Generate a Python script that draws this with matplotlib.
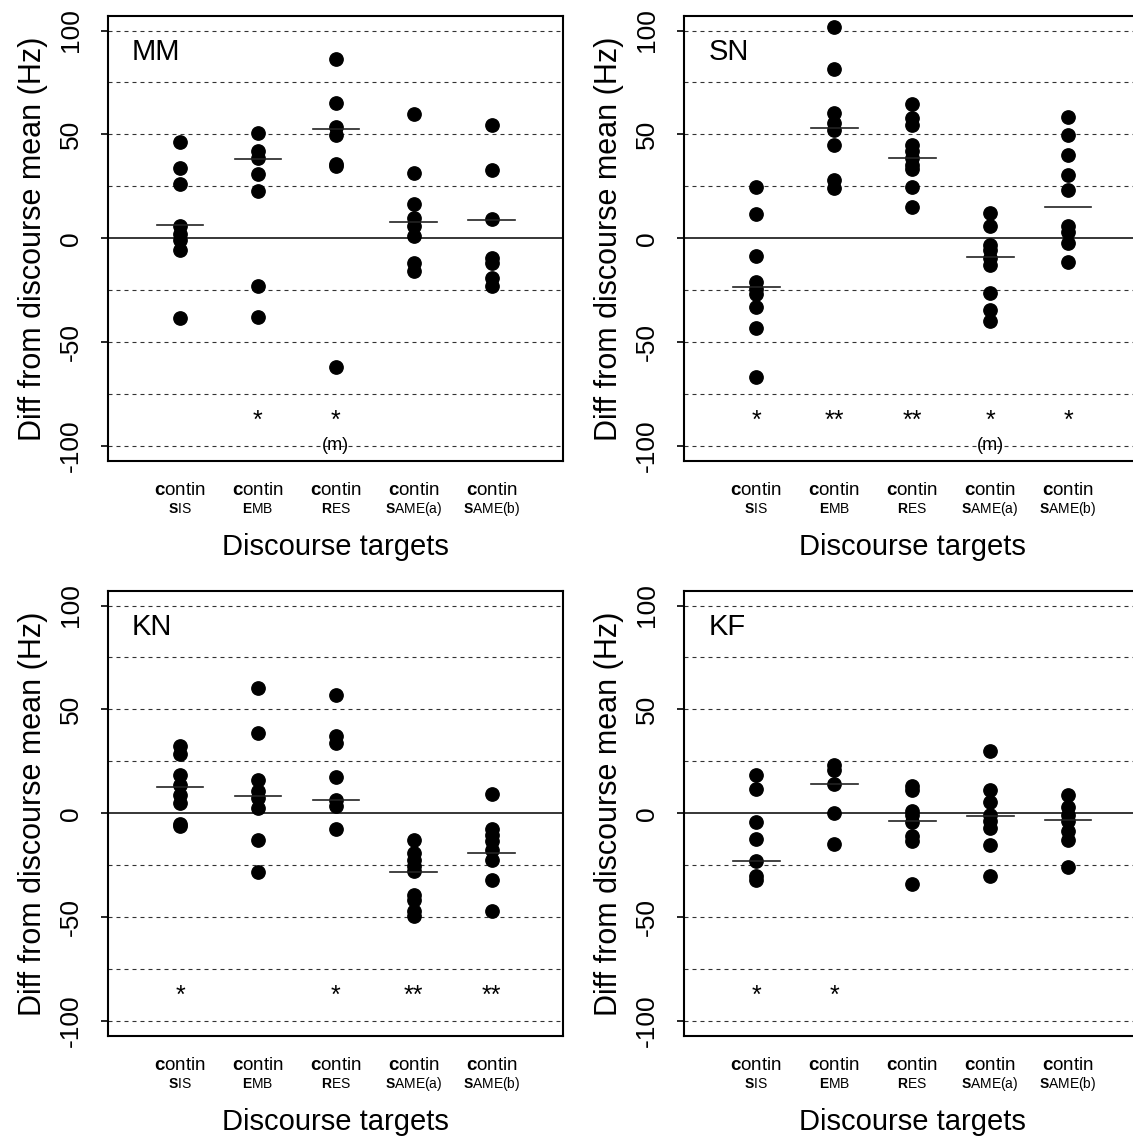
import matplotlib
matplotlib.use("Agg")
import matplotlib.pyplot as plt

plt.rcParams['font.family'] = ['Liberation Sans', 'DejaVu Sans']
plt.rcParams['mathtext.fontset'] = 'custom'
plt.rcParams['mathtext.rm'] = 'Liberation Sans'
plt.rcParams['mathtext.bf'] = 'Liberation Sans:bold'

# ---------------- data ----------------
categories = ["SIS", "EMB", "RES", "SAME(a)", "SAME(b)"]
speakers = ["MM", "SN", "KN", "KF"]

mm_vals = [
    [46.6, 33.7, 26.0, 6.0, 2.0, -1.0, -5.5, -38.3],
    [50.6, 41.8, 38.6, 31.1, 22.9, -22.8, -37.8],
    [86.2, 64.9, 53.8, 49.8, 35.9, 34.6, -61.9],
    [59.9, 31.4, 16.5, 9.8, 5.8, 1.0, -11.9, -15.9],
    [54.6, 33.0, 9.3, -9.5, -12.0, -19.0, -23.0],
]
mm_means = [6.6, 38.1, 52.7, 7.7, 8.7]
mm_sig = ["", "*", "*", "", ""]
mm_m = ["", "", "(m)", "", ""]

sn_vals = [
    [24.5, 11.7, -8.7, -21.2, -24.4, -27.0, -33.2, -43.1, -66.7],
    [101.6, 81.7, 60.3, 55.4, 52.2, 45.0, 28.2, 24.2],
    [64.7, 57.9, 54.6, 45.0, 41.8, 38.6, 35.4, 33.3, 24.7, 15.1],
    [12.2, 5.8, -3.0, -5.4, -9.5, -12.7, -26.3, -34.3, -39.9],
    [58.2, 49.5, 39.9, 30.6, 23.4, 5.8, 2.9, -2.2, -11.4],
]
sn_means = [-23.4, 53.0, 38.9, -9.1, 14.9]
sn_sig = ["*", "**", "**", "*", "*"]
sn_m = ["", "", "", "(m)", ""]

kn_vals = [
    [32.5, 28.7, 18.6, 13.8, 9.0, 5.0, -5.1, -6.3],
    [60.3, 38.6, 16.2, 10.6, 7.4, 2.6, -13.0, -28.2],
    [57.1, 37.0, 33.8, 17.5, 6.6, 3.4, -7.5],
    [-13.0, -19.1, -22.3, -25.5, -27.9, -39.4, -41.5, -47.1, -49.5],
    [9.5, -7.5, -10.3, -13.5, -17.5, -22.3, -31.9, -47.1],
]
kn_means = [12.5, 8.2, 6.4, -28.2, -18.9]
kn_sig = ["*", "", "*", "**", "**"]
kn_m = ["", "", "", "", ""]

kf_vals = [
    [18.3, 11.9, -4.2, -12.3, -22.8, -30.3, -31.9],
    [23.4, 21.0, 14.3, 0.0, -14.7],
    [13.0, 11.4, 1.3, -0.6, -4.2, -11.1, -13.5, -34.0],
    [29.8, 11.4, 5.4, -0.6, -3.8, -7.1, -15.4, -30.3],
    [8.7, 2.9, -0.6, -3.8, -8.7, -12.7, -25.8],
]
kf_means = [-23.1, 14.1, -3.8, -1.4, -3.2]
kf_sig = ["*", "*", "", "", ""]
kf_m = ["", "", "", "", ""]

yticks = [-100, -50, 0, 50, 100]
ygrid = [-100, -75, -50, -25, 25, 50, 75, 100]

panels = [
    ("MM", mm_vals, mm_means, mm_sig, mm_m),
    ("SN", sn_vals, sn_means, sn_sig, sn_m),
    ("KN", kn_vals, kn_means, kn_sig, kn_m),
    ("KF", kf_vals, kf_means, kf_sig, kf_m),
]

# ---------------- figure ----------------
W, H = 1133, 1141
fig = plt.figure(figsize=(W / 100, H / 100), dpi=100)

ax_w = 454.7 / W
ax_h = 444.7 / H
lefts = [108 / W, 684.3 / W]
bottoms = [1 - 460.7 / H, 1 - 1035.7 / H]

for idx, (name, vals, means, sig, msig) in enumerate(panels):
    r, c = divmod(idx, 2)
    ax = fig.add_axes([lefts[c], bottoms[r], ax_w, ax_h])
    ax.set_xlim(0.076, 5.91)
    ax.set_ylim(-107, 107)

    for g in ygrid:
        ax.axhline(g, color='#333333', lw=0.8, dashes=(3.6, 3.6), zorder=1)
    ax.axhline(0, color='black', lw=1.1, zorder=1)

    xpos = list(range(1, len(categories) + 1))
    for i, x in enumerate(xpos):
        ax.plot([x] * len(vals[i]), vals[i], 'o', color='black', ms=9.6,
                mec='black', zorder=3)
        ax.plot([x - 0.3, x + 0.3], [means[i], means[i]], color='#222222',
                lw=1.2, zorder=4)
        if sig[i]:
            ax.text(x, -88.0, sig[i], ha='center', va='center', fontsize=18)
        if msig[i]:
            ax.text(x, -99.6, msig[i], ha='center', va='center', fontsize=13)

    ax.text(0.053, 0.92, name, transform=ax.transAxes, fontsize=21,
            ha='left', va='center')

    for sp in ax.spines.values():
        sp.set_linewidth(1.5)

    ax.set_yticks(yticks)
    ax.set_yticklabels([str(t) for t in yticks], rotation=90, va='center',
                       fontsize=19)
    ax.tick_params(axis='y', direction='out', length=5, width=1.2, pad=13)
    ax.set_xticks([])

    for i, x in enumerate(xpos):
        cat = categories[i]
        ax.text(x, -0.066, r"$\mathbf{c}$ontin", transform=ax.get_xaxis_transform(),
                ha='center', va='center', fontsize=13.5)
        ax.text(x, -0.108, r"$\mathbf{" + cat[0] + "}$" + cat[1:],
                transform=ax.get_xaxis_transform(),
                ha='center', va='center', fontsize=10)

    ax.text(3.0, -0.194, "Discourse targets", transform=ax.get_xaxis_transform(),
            ha='center', va='center', fontsize=21)
    ax.set_ylabel("Diff from discourse mean (Hz)", fontsize=22, labelpad=8)

fig.savefig("out.png", dpi=100)
